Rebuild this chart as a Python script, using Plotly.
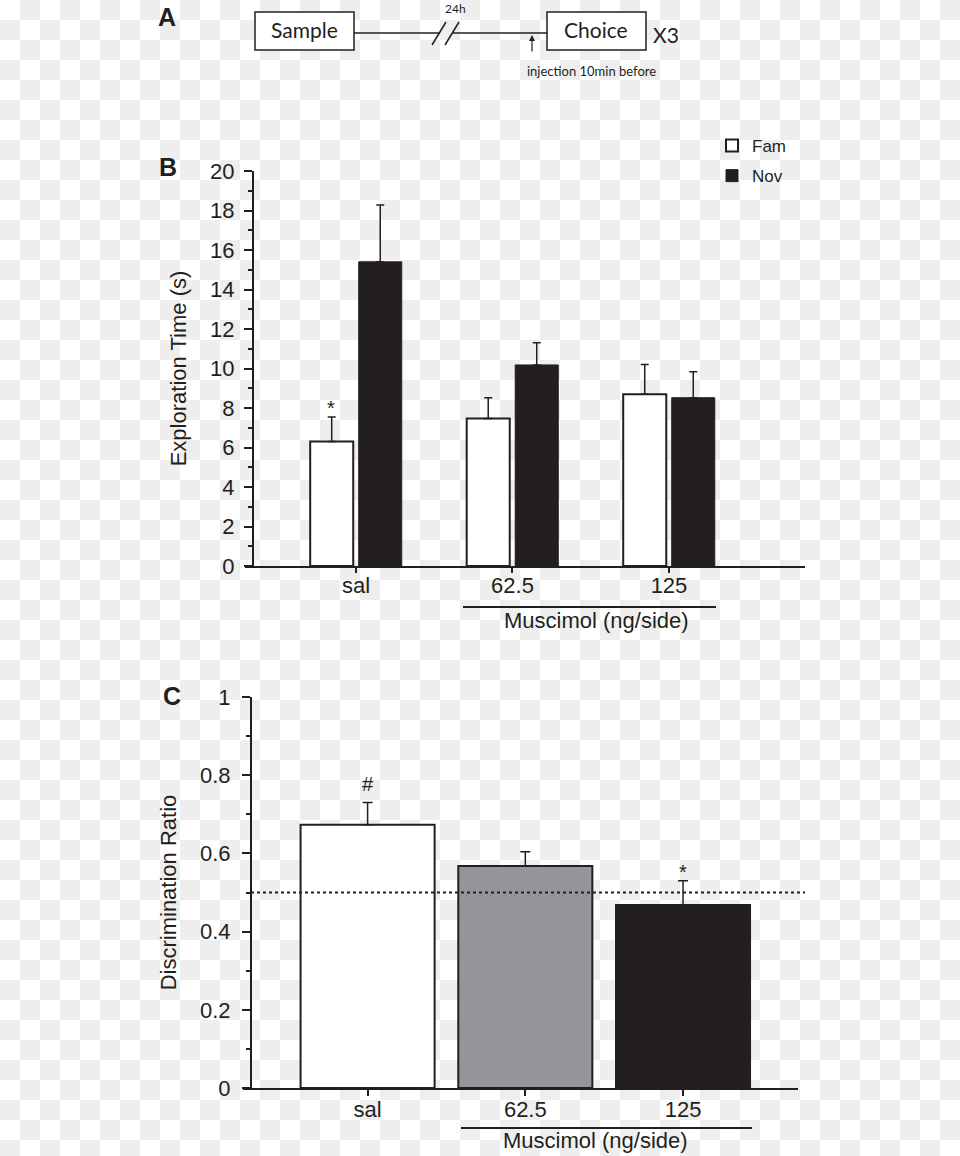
import base64
import plotly.graph_objects as go

# ---------------- data ----------------
categories = ["sal", "62.5", "125"]
fam_time = [6.30, 7.47, 8.69]
fam_sem = [1.24, 1.05, 1.51]
nov_time = [15.40, 10.18, 8.52]
nov_sem = [2.88, 1.12, 1.31]
disc_ratio = [0.673, 0.568, 0.468]
disc_sem = [0.057, 0.036, 0.062]
disc_colors = ["#ffffff", "#939598", "#231f20"]
chance_level = 0.5
y_ticks_b = [0, 2, 4, 6, 8, 10, 12, 14, 16, 18, 20]
y_ticks_c = [0, 0.2, 0.4, 0.6, 0.8, 1]

W, H = 960, 1156
INK = "#231f20"
AX_FONT = "Liberation Sans, Arial, Helvetica, sans-serif"
DIA_FONT = "Lato, Open Sans, sans-serif"
FS = 22


def px(x):
    return x / W


def py(y):
    return 1 - y / H


fig = go.Figure()

# ---------------- panel B ----------------
fig.add_trace(go.Bar(
    x=categories, y=fam_time, name="Fam",
    marker=dict(color="#ffffff", line=dict(color=INK, width=2)),
    error_y=dict(type="data", array=fam_sem, arrayminus=[0] * len(fam_sem),
                 symmetric=False, color=INK, thickness=1.5, width=4),
    xaxis="x", yaxis="y", legendgroup="fam", hoverinfo="skip",
))
fig.add_trace(go.Bar(
    x=categories, y=nov_time, name="Nov",
    marker=dict(color=INK, line=dict(color=INK, width=1)),
    error_y=dict(type="data", array=nov_sem, arrayminus=[0] * len(nov_sem),
                 symmetric=False, color=INK, thickness=1.5, width=4),
    xaxis="x", yaxis="y", legendgroup="nov", hoverinfo="skip",
))

# ---------------- panel C ----------------
fig.add_trace(go.Bar(
    x=categories, y=disc_ratio, width=0.85, showlegend=False,
    marker=dict(color=disc_colors, line=dict(color=INK, width=2)),
    error_y=dict(type="data", array=disc_sem, arrayminus=[0] * len(disc_sem),
                 symmetric=False, color=INK, thickness=1.5, width=5),
    xaxis="x2", yaxis="y2", hoverinfo="skip",
))

axis_common = dict(showline=True, linecolor=INK, linewidth=2, ticks="outside",
                   tickcolor=INK, tickwidth=1.5, showgrid=False, zeroline=False,
                   automargin=False,
                   tickfont=dict(family=AX_FONT, size=FS, color=INK))

fig.update_layout(
    width=W, height=H, margin=dict(l=0, r=0, t=0, b=0, pad=0, autoexpand=False),
    paper_bgcolor="#ffffff", plot_bgcolor="rgba(0,0,0,0)",
    barmode="group", bargap=0.38, bargroupgap=0.113,
    font=dict(family=AX_FONT, color=INK),
    xaxis=dict(domain=[px(245), px(805)], anchor="y", type="category",
               range=[-0.709, 2.869], ticklen=5, ticklabelstandoff=-6, **axis_common),
    yaxis=dict(domain=[py(566), py(171)], anchor="free", position=px(253),
               range=[0, 20], tickvals=y_ticks_b, ticklen=8, ticklabelstandoff=5,
               minor=dict(dtick=1, ticks="outside", ticklen=4, tickcolor=INK, tickwidth=1.5),
               title=dict(text="Exploration Time (s)", standoff=16,
                          font=dict(family=AX_FONT, size=FS, color=INK)),
               **axis_common),
    xaxis2=dict(domain=[px(243), px(798)], anchor="y2", type="category",
                range=[-0.790, 2.729], ticklen=6, ticklabelstandoff=-5, **axis_common),
    yaxis2=dict(domain=[py(1088), py(697)], anchor="free", position=px(251),
                range=[0, 1], tickvals=y_ticks_c, ticklen=8, ticklabelstandoff=7,
                minor=dict(dtick=0.1, ticks="outside", ticklen=4, tickcolor=INK, tickwidth=1.5),
                title=dict(text="Discrimination Ratio", standoff=16,
                           font=dict(family=AX_FONT, size=FS, color=INK)),
                **axis_common),
    legend=dict(x=px(712), y=py(128), xanchor="left", yanchor="top",
                bgcolor="rgba(0,0,0,0)", traceorder="grouped", tracegroupgap=5,
                font=dict(family=AX_FONT, size=17, color=INK)),
)

# ---------------- checkered background ----------------
svg = (
    "<svg xmlns='http://www.w3.org/2000/svg' width='960' height='1156'>"
    "<defs><pattern id='p' width='40' height='40' patternUnits='userSpaceOnUse'>"
    "<rect width='40' height='40' fill='#ffffff'/>"
    "<rect x='20' y='0' width='20' height='20' fill='#eeeeee'/>"
    "<rect x='0' y='20' width='20' height='20' fill='#eeeeee'/>"
    "</pattern></defs><rect width='960' height='1156' fill='url(#p)'/></svg>"
)
uri = "data:image/svg+xml;base64," + base64.b64encode(svg.encode()).decode()
fig.add_layout_image(dict(source=uri, xref="paper", yref="paper", x=0, y=1,
                          sizex=1, sizey=1, xanchor="left", yanchor="top",
                          sizing="stretch", layer="below"))

shapes = []
line_style = dict(color=INK, width=1.5)
# panel A diagram
shapes.append(dict(type="rect", xref="paper", yref="paper", x0=px(255), x1=px(354),
                   y0=py(12), y1=py(50), line=line_style, fillcolor="#ffffff"))
shapes.append(dict(type="rect", xref="paper", yref="paper", x0=px(547), x1=px(646),
                   y0=py(12), y1=py(50), line=line_style, fillcolor="#ffffff"))
shapes.append(dict(type="line", xref="paper", yref="paper", x0=px(354), x1=px(440),
                   y0=py(33), y1=py(33), line=line_style))
shapes.append(dict(type="line", xref="paper", yref="paper", x0=px(452), x1=px(547),
                   y0=py(33), y1=py(33), line=line_style))
shapes.append(dict(type="line", xref="paper", yref="paper", x0=px(432), x1=px(446),
                   y0=py(45), y1=py(22), line=line_style))
shapes.append(dict(type="line", xref="paper", yref="paper", x0=px(445), x1=px(459),
                   y0=py(45), y1=py(22), line=line_style))
# Muscimol brackets
shapes.append(dict(type="line", xref="paper", yref="paper", x0=px(463), x1=px(716),
                   y0=py(607), y1=py(607), line=dict(color=INK, width=2)))
shapes.append(dict(type="line", xref="paper", yref="paper", x0=px(461), x1=px(752),
                   y0=py(1128), y1=py(1128), line=dict(color=INK, width=2)))
# chance level line in C
shapes.append(dict(type="line", xref="x2 domain", yref="y2", x0=(251 - 243) / (798 - 243),
                   x1=(805 - 243) / (798 - 243), y0=chance_level, y1=chance_level,
                   line=dict(color=INK, width=2, dash="dot"), layer="above"))
fig.update_layout(shapes=shapes)

ann = []


def txt(x, y, s, size, family=AX_FONT, bold=False, **kw):
    if bold:
        s = "<b>" + s + "</b>"
    d = dict(x=px(x), y=py(y), xref="paper", yref="paper", text=s, showarrow=False,
             font=dict(family=family, size=size, color=INK),
             xanchor="center", yanchor="middle")
    d.update(kw)
    ann.append(d)


txt(167, 17, "A", 25, bold=True)
txt(168, 167, "B", 25, bold=True)
txt(172, 696, "C", 25, bold=True)
txt(304, 30, "Sample", 21, family=DIA_FONT)
txt(596, 30, "Choice", 21, family=DIA_FONT)
txt(666, 34, "X3", 21, family=DIA_FONT)
txt(455, 9, "24h", 12, family=DIA_FONT)
txt(591, 71, "injection 10min before", 13, family=DIA_FONT)
txt(596, 620, "Muscimol (ng/side)", FS)
txt(595, 1140, "Muscimol (ng/side)", FS)

# injection arrow
ann.append(dict(x=px(532), y=py(35), xref="paper", yref="paper", text="",
                showarrow=True, ax=0, ay=18, axref="pixel", ayref="pixel",
                arrowhead=2, arrowsize=1, arrowwidth=1.2, arrowcolor=INK))

# significance markers (category positions by index)
i_sal = categories.index("sal")
i_125 = categories.index("125")
ann.append(dict(x=i_sal, xref="x", y=fam_time[i_sal] + fam_sem[i_sal], yref="y",
                text="*", showarrow=False, xshift=-24.5, yshift=-4, yanchor="bottom",
                font=dict(family=AX_FONT, size=20, color=INK)))
ann.append(dict(x=i_sal, xref="x2", y=disc_ratio[i_sal] + disc_sem[i_sal], yref="y2",
                text="#", showarrow=False, yshift=6, yanchor="bottom",
                font=dict(family=AX_FONT, size=20, color=INK)))
ann.append(dict(x=i_125, xref="x2", y=disc_ratio[i_125] + disc_sem[i_125], yref="y2",
                text="*", showarrow=False, yshift=-4, yanchor="bottom",
                font=dict(family=AX_FONT, size=20, color=INK)))
fig.update_layout(annotations=ann)

fig.write_html("out.html", config={"displayModeBar": False},
               post_script="document.body.style.margin='0';document.body.style.overflow='hidden';")
